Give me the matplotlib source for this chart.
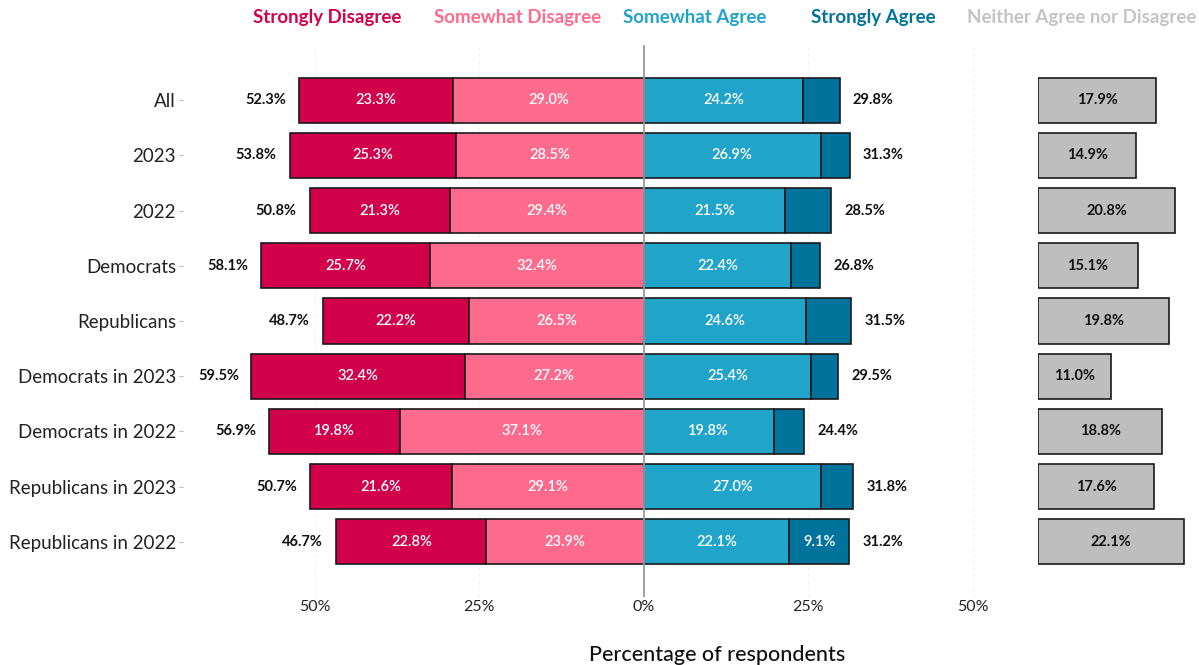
import matplotlib
matplotlib.use("Agg")
import matplotlib.pyplot as plt
import numpy as np

plt.rcParams['font.family'] = ['Lato', 'DejaVu Sans']

groups = ['All', '2023', '2022', 'Democrats', 'Republicans', 'Democrats in 2023',
          'Democrats in 2022', 'Republicans in 2023', 'Republicans in 2022']
strongly_disagree = [23.3, 25.3, 21.3, 25.7, 22.2, 32.4, 19.8, 21.6, 22.8]
somewhat_disagree = [29.0, 28.5, 29.4, 32.4, 26.5, 27.2, 37.1, 29.1, 23.9]
somewhat_agree = [24.2, 26.9, 21.5, 22.4, 24.6, 25.4, 19.8, 27.0, 22.1]
strongly_agree = [5.6, 4.4, 7.0, 4.4, 6.9, 4.1, 4.6, 4.8, 9.1]
neither = [17.9, 14.9, 20.8, 15.1, 19.8, 11.0, 18.8, 17.6, 22.1]
disagree_total = [52.3, 53.8, 50.8, 58.1, 48.7, 59.5, 56.9, 50.7, 46.7]
agree_total = [29.8, 31.3, 28.5, 26.8, 31.5, 29.5, 24.4, 31.8, 31.2]

c_sd = '#d2004b'
c_swd = '#ff6b8c'
c_swa = '#21a4ca'
c_sa = '#00739c'
c_n = '#bebebe'

fig = plt.figure(figsize=(11.99, 6.65), dpi=100)
ax = fig.add_axes([0.1526, 0.1023, 0.6697, 0.83])
axn = fig.add_axes([0.8657, 0.1023, 0.1268, 0.83])

y = np.arange(len(groups))
h = 0.82
sd = np.array(strongly_disagree)
swd = np.array(somewhat_disagree)
swa = np.array(somewhat_agree)
sa = np.array(strongly_agree)

edge = dict(edgecolor='#1a1a1a', linewidth=1.2)
ax.barh(y, -sd, left=-swd, height=h, color=c_sd, **edge, zorder=3)
ax.barh(y, -swd, height=h, color=c_swd, **edge, zorder=3)
ax.barh(y, swa, height=h, color=c_swa, **edge, zorder=3)
ax.barh(y, sa, left=swa, height=h, color=c_sa, **edge, zorder=3)

lab = dict(ha='center', va='center', color='white', fontsize=10.5, fontweight='semibold', zorder=4)
for i in range(len(groups)):
    ax.text(-swd[i] - sd[i] / 2, i, f'{sd[i]:.1f}%', **lab)
    ax.text(-swd[i] / 2, i, f'{swd[i]:.1f}%', **lab)
    ax.text(swa[i] / 2, i, f'{swa[i]:.1f}%', **lab)
    if sa[i] > 8:
        ax.text(swa[i] + sa[i] / 2, i, f'{sa[i]:.1f}%', **lab)
    ax.text(-disagree_total[i] - 2, i, f'{disagree_total[i]:.1f}%', ha='right', va='center',
            fontsize=10.5, fontweight='bold', color='#111111')
    ax.text(agree_total[i] + 2, i, f'{agree_total[i]:.1f}%', ha='left', va='center',
            fontsize=10.5, fontweight='bold', color='#111111')

for g in [-50, -25, 25, 50]:
    ax.axvline(g, color='#efefef', lw=0.8, ls=(0, (3, 3)), zorder=0)
ax.axvline(0, color='#999999', lw=1.3, zorder=5)

ax.set_xlim(-70, 52)
ax.set_ylim(9, -1)
ax.set_yticks(y)
ax.set_yticklabels(groups, fontsize=13.5, color='#222222')
ax.set_xticks([-50, -25, 0, 25, 50])
ax.set_xticklabels(['50%', '25%', '0%', '25%', '50%'], fontsize=11.5, color='#222222')
ax.tick_params(axis='x', length=0, pad=2)
ax.tick_params(axis='y', length=3, color='#bbbbbb', pad=2)
for s in ax.spines.values():
    s.set_visible(False)

axn.barh(y, neither, height=h, color=c_n, **edge, zorder=3)
for i, v in enumerate(neither):
    axn.text(v / 2, i, f'{v:.1f}%', ha='center', va='center', fontsize=10.5,
             fontweight='bold', color='#111111', zorder=4)
axn.set_xlim(0, 23)
axn.set_ylim(9, -1)
axn.axis('off')

fig.text(717 / 1199, 1 - 655 / 665, 'Percentage of respondents', ha='center', va='center',
         fontsize=15.5, fontweight='medium', color='#111111')

legend_items = [('Strongly Disagree', c_sd, 327), ('Somewhat Disagree', c_swd, 518),
                ('Somewhat Agree', c_swa, 695), ('Strongly Agree', c_sa, 873),
                ('Neither Agree nor Disagree', '#c4c4c4', 1082)]
for name, col, px in legend_items:
    fig.text(px / 1199, 1 - 18 / 665, name, ha='center', va='center', color=col,
             fontsize=13.5, fontweight='bold')

fig.savefig('out.png', dpi=100)
